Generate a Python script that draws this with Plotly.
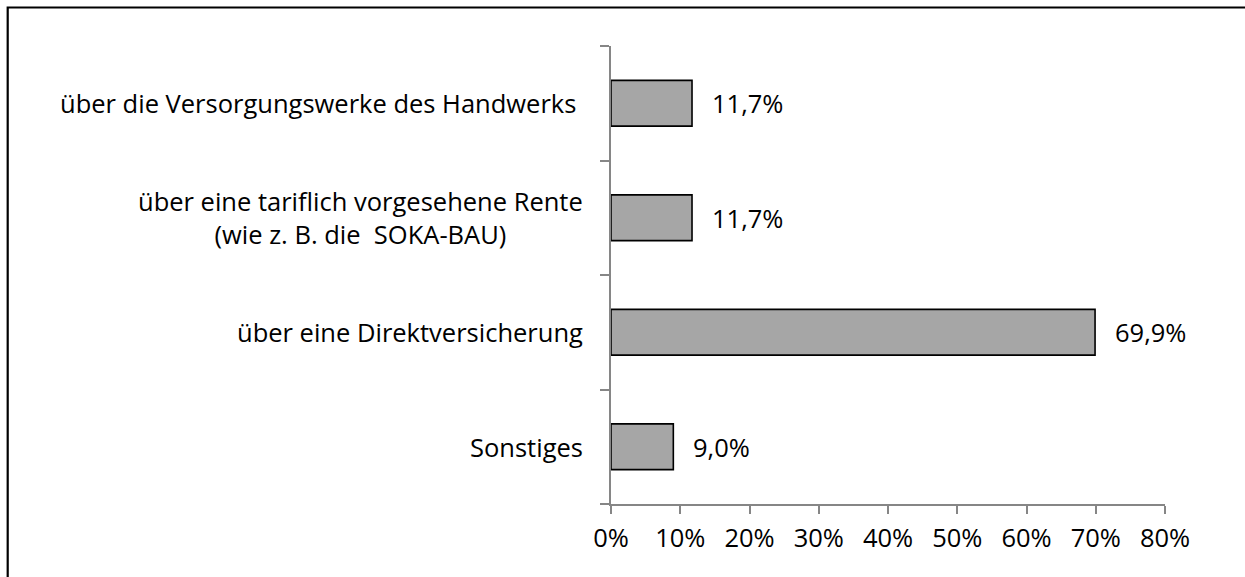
import plotly.graph_objects as go

categories = [
    "Sonstiges",
    "über eine Direktversicherung",
    "über eine tariflich vorgesehene Rente<br>(wie z. B. die\u00a0 SOKA-BAU)",
    "über die Versorgungswerke des Handwerks\u00a0",
]
values = [9.0, 69.9, 11.7, 11.7]
value_labels = ["9,0%", "69,9%", "11,7%", "11,7%"]
x_tickvals = [0, 10, 20, 30, 40, 50, 60, 70, 80]
x_ticktext = ["0%", "10%", "20%", "30%", "40%", "50%", "60%", "70%", "80%"]

FONT = "Open Sans, Liberation Sans, sans-serif"
FS = 25.5
AXIS = "#868686"

W, H = 1245, 577
ML, MR, MT, MB = 611, 80, 46, 73
pw = W - ML - MR
ph = H - MT - MB

fig = go.Figure()
fig.add_trace(go.Bar(
    y=categories, x=values, orientation="h", width=0.4,
    marker=dict(color="#A6A6A6", line=dict(color="#000000", width=1.6)),
    hoverinfo="skip", showlegend=False,
))

annotations = []
for c, v, t in zip(categories, values, value_labels):
    annotations.append(dict(
        x=v, y=c, xref="x", yref="y", text=t, showarrow=False,
        xanchor="left", yanchor="middle", xshift=18,
        font=dict(family=FONT, size=FS, color="#000000"),
    ))
    annotations.append(dict(
        x=0, y=c, xref="paper", yref="y", text=c, showarrow=False,
        xanchor="right", yanchor="middle", align="center", xshift=-26,
        font=dict(family=FONT, size=FS, color="#000000"),
    ))

# outer frame (clipped at right/bottom like the reference)
shapes = [dict(
    type="rect", xref="paper", yref="paper",
    x0=(7.7 - ML) / pw, x1=(W + 10 - ML) / pw,
    y0=-(H + 10 - MT - ph) / ph, y1=1 + (MT - 7.5) / ph,
    line=dict(color="#000000", width=2.2), fillcolor="rgba(0,0,0,0)", layer="below",
)]

fig.update_layout(
    width=W, height=H, autosize=False,
    margin=dict(l=ML, r=MR, t=MT, b=MB, pad=0),
    paper_bgcolor="white", plot_bgcolor="white",
    font=dict(family=FONT, size=FS, color="#000000"),
    annotations=annotations, shapes=shapes,
    xaxis=dict(
        range=[0, 80], tickvals=x_tickvals, ticktext=x_ticktext,
        showgrid=False, zeroline=False,
        showline=True, linecolor=AXIS, linewidth=2,
        ticks="outside", ticklen=8, tickcolor=AXIS, tickwidth=2,
        ticklabelstandoff=2, fixedrange=True,
    ),
    yaxis=dict(
        type="category", categoryorder="array", categoryarray=categories,
        range=[-0.5, 3.5], showticklabels=False,
        showgrid=False, zeroline=False,
        showline=True, linecolor=AXIS, linewidth=2,
        ticks="outside", ticklen=9, tickcolor=AXIS, tickwidth=2,
        tickson="boundaries", fixedrange=True,
    ),
)

fig.write_html(
    "out.html",
    config={"displayModeBar": False},
    post_script="document.body.style.margin='0';document.body.style.overflow='hidden';",
)
